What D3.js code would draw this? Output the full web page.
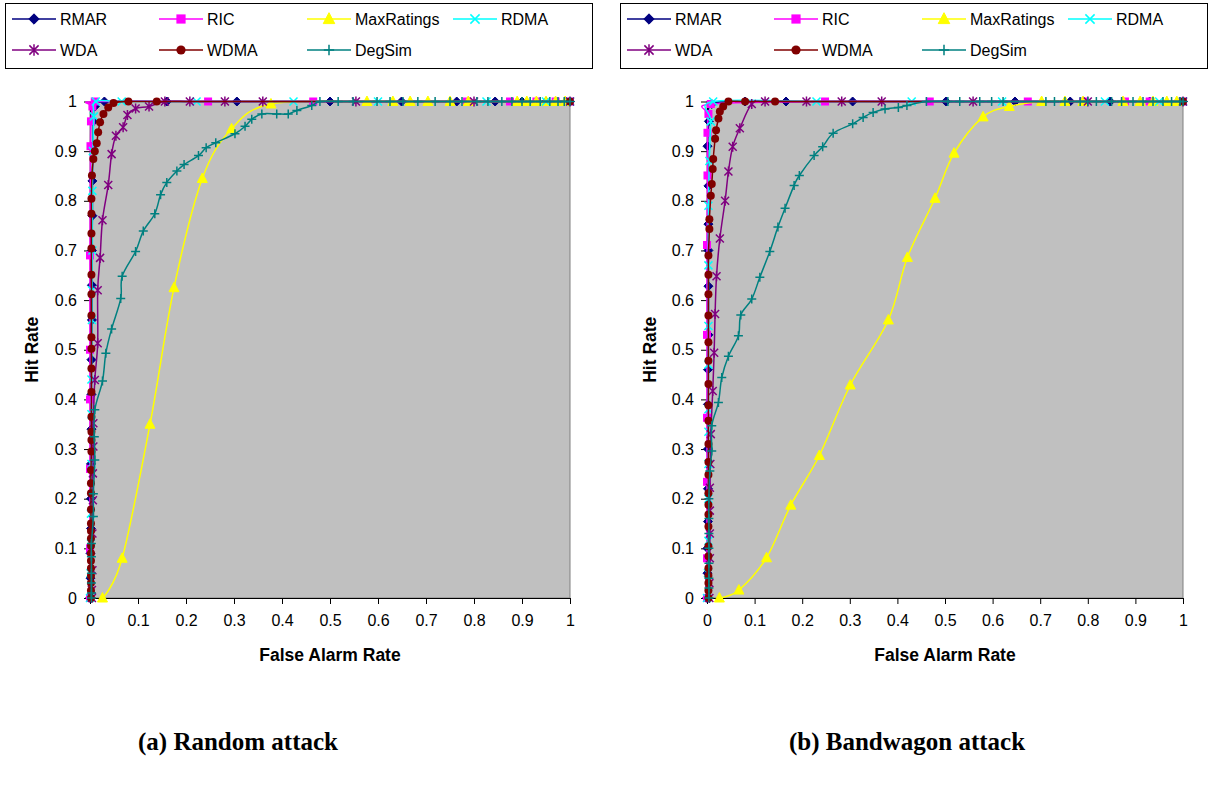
<!DOCTYPE html>
<html>
<head>
<meta charset="utf-8">
<script src="https://cdn.jsdelivr.net/npm/d3@7"></script>
<style>
  body { margin: 0; background: #fff; }
  text { font-family: "Liberation Sans", Arial, sans-serif; }
</style>
</head>
<body>
<svg id="chart" width="1216" height="785"></svg>
<script>
(function() {
  'use strict';

  var seriesNames = ["RMAR", "RIC", "MaxRatings", "RDMA", "WDA", "WDMA", "DegSim"];
  var seriesColors = ["#000080", "#FF00FF", "#FFFF00", "#00FFFF", "#800080", "#800000", "#008080"];
  var seriesMarkers = ["diamond", "square", "triangle", "x", "asterisk", "circle", "plus"];
  var tickValues = [0, 0.1, 0.2, 0.3, 0.4, 0.5, 0.6, 0.7, 0.8, 0.9, 1];
  var tickLabels = ["0", "0.1", "0.2", "0.3", "0.4", "0.5", "0.6", "0.7", "0.8", "0.9", "1"];

  // (a) Random attack: [false alarm rate, hit rate]
  var randRMAR = [[0,0],[0.001,0.04],[0.001,0.09],[0.002,0.14],[0.002,0.2],[0.002,0.27],[0.003,0.34],[0.003,0.41],[0.003,0.48],[0.004,0.56],[0.004,0.63],[0.004,0.7],[0.005,0.77],[0.005,0.84],[0.006,0.91],[0.007,0.96],[0.01,0.99],[0.03,1],[0.16,1],[0.306,1],[0.5,1],[0.649,1],[0.764,1],[0.844,1],[0.9,1],[0.95,1],[1,1]];
  var randRIC = [[0,0],[0,0.1],[0,0.26],[0,0.4],[0,0.5],[0,0.69],[0.001,0.91],[0.002,0.96],[0.005,0.99],[0.01,1],[0.246,1],[0.465,1],[0.785,1],[0.875,1],[0.93,1],[0.97,1],[1,1]];
  var randMax = [[0.026,0],[0.067,0.08],[0.125,0.35],[0.175,0.625],[0.234,0.845],[0.295,0.945],[0.377,0.995],[0.577,1],[0.631,1],[0.667,1],[0.704,1],[0.75,1],[0.788,1],[0.89,1],[0.91,1],[0.93,1],[0.95,1],[0.97,1],[0.99,1]];
  var randRDMA = [[0,0],[0.001,0.05],[0.002,0.11],[0.002,0.17],[0.003,0.27],[0.003,0.37],[0.003,0.44],[0.004,0.56],[0.004,0.62],[0.005,0.7],[0.005,0.82],[0.006,0.9],[0.008,0.97],[0.012,1],[0.066,1],[0.222,1],[0.424,1],[0.6,1],[0.826,1],[0.95,1],[1,1]];
  var randWDA = [[0.004,0],[0.004,0.016],[0.005,0.056],[0.005,0.13],[0.006,0.197],[0.006,0.251],[0.007,0.305],[0.007,0.352],[0.01,0.439],[0.016,0.513],[0.016,0.62],[0.021,0.685],[0.026,0.761],[0.038,0.832],[0.045,0.894],[0.054,0.931],[0.069,0.948],[0.078,0.973],[0.095,0.986],[0.123,0.99],[0.156,1],[0.208,1],[0.281,1],[0.36,1],[0.554,1],[0.8,1],[1,1]];
  var randWDMA = [[0.002,0],[0.002,0.015],[0.002,0.03],[0.002,0.045],[0.002,0.06],[0.002,0.075],[0.002,0.09],[0.002,0.105],[0.002,0.12],[0.002,0.135],[0.002,0.15],[0.002,0.178],[0.002,0.211],[0.002,0.231],[0.002,0.258],[0.003,0.295],[0.003,0.318],[0.003,0.335],[0.003,0.365],[0.003,0.415],[0.003,0.462],[0.003,0.502],[0.003,0.525],[0.003,0.569],[0.003,0.612],[0.003,0.651],[0.003,0.704],[0.003,0.734],[0.003,0.774],[0.003,0.804],[0.004,0.851],[0.007,0.884],[0.01,0.9],[0.014,0.916],[0.017,0.938],[0.021,0.958],[0.028,0.975],[0.038,0.988],[0.049,0.997],[0.08,1],[0.139,1],[1,1]];
  var randDegSim = [[0.003,0],[0.003,0.01],[0.003,0.03],[0.003,0.05],[0.003,0.083],[0.003,0.11],[0.007,0.164],[0.007,0.21],[0.01,0.278],[0.009,0.325],[0.01,0.379],[0.026,0.437],[0.033,0.493],[0.045,0.542],[0.064,0.603],[0.067,0.648],[0.095,0.698],[0.111,0.739],[0.135,0.774],[0.147,0.812],[0.16,0.837],[0.181,0.86],[0.196,0.873],[0.226,0.891],[0.242,0.907],[0.262,0.917],[0.302,0.935],[0.323,0.95],[0.337,0.964],[0.358,0.975],[0.389,0.975],[0.413,0.975],[0.431,0.982],[0.462,0.992],[0.479,1],[0.517,1],[0.548,1],[0.598,1],[0.625,1],[0.652,1],[0.683,1],[0.719,1],[0.75,1],[0.775,1],[0.806,1],[0.829,1],[0.858,1],[0.879,1],[0.9,1],[0.917,1],[0.938,1],[0.958,1],[0.975,1],[0.988,1],[1,1]];

  // (b) Bandwagon attack
  var bandRMAR = [[0,0],[0.001,0.05],[0.001,0.1],[0.002,0.154],[0.002,0.22],[0.002,0.3],[0.002,0.39],[0.002,0.46],[0.003,0.53],[0.003,0.628],[0.003,0.7],[0.003,0.753],[0.003,0.83],[0.001,0.91],[0.004,0.96],[0.01,0.995],[0.08,1],[0.166,1],[0.306,1],[0.502,1],[0.647,1],[0.763,1],[0.847,1],[0.93,1],[1,1]];
  var bandRIC = [[0,0],[0,0.08],[0,0.234],[0,0.363],[0,0.53],[0,0.711],[0.001,0.851],[0.001,0.937],[0.003,0.975],[0.008,0.995],[0.248,1],[0.468,1],[0.674,1],[0.79,1],[0.878,1],[0.93,1],[1,1]];
  var bandMax = [[0.026,0],[0.067,0.016],[0.125,0.081],[0.176,0.187],[0.236,0.287],[0.301,0.429],[0.381,0.56],[0.421,0.686],[0.479,0.805],[0.519,0.896],[0.58,0.969],[0.635,0.99],[0.703,1],[0.752,1],[0.79,1],[0.874,1],[0.91,1],[0.937,1],[0.966,1],[0.987,1]];
  var bandRDMA = [[0,0],[0.002,0.05],[0.003,0.115],[0.003,0.2],[0.003,0.27],[0.003,0.335],[0.003,0.38],[0.003,0.47],[0.003,0.548],[0.003,0.67],[0.003,0.79],[0.005,0.88],[0.008,0.96],[0.013,1],[0.23,1],[0.43,1],[0.62,1],[0.836,1],[0.95,1],[1,1]];
  var bandWDA = [[0.005,0],[0.005,0.03],[0.006,0.08],[0.006,0.13],[0.006,0.176],[0.006,0.222],[0.007,0.27],[0.008,0.33],[0.012,0.417],[0.015,0.494],[0.017,0.572],[0.02,0.648],[0.027,0.724],[0.038,0.8],[0.045,0.859],[0.054,0.909],[0.069,0.946],[0.094,0.995],[0.122,1],[0.209,1],[0.283,1],[0.367,1],[0.559,1],[0.8,1],[1,1]];
  var bandWDMA = [[0.003,0],[0.003,0.015],[0.003,0.03],[0.003,0.045],[0.003,0.06],[0.003,0.084],[0.003,0.104],[0.003,0.144],[0.003,0.168],[0.003,0.188],[0.003,0.211],[0.003,0.248],[0.003,0.274],[0.003,0.31],[0.003,0.357],[0.003,0.388],[0.003,0.431],[0.003,0.478],[0.003,0.515],[0.003,0.569],[0.003,0.612],[0.003,0.651],[0.003,0.69],[0.005,0.743],[0.005,0.763],[0.008,0.81],[0.01,0.834],[0.012,0.864],[0.013,0.884],[0.017,0.925],[0.019,0.942],[0.024,0.966],[0.027,0.98],[0.034,0.99],[0.045,1],[0.08,1],[0.143,1],[1,1]];
  var bandDegSim = [[0.004,0],[0.004,0.02],[0.004,0.04],[0.004,0.07],[0.004,0.1],[0.004,0.13],[0.004,0.16],[0.004,0.2],[0.006,0.256],[0.01,0.296],[0.01,0.347],[0.024,0.394],[0.031,0.444],[0.045,0.487],[0.066,0.528],[0.071,0.57],[0.094,0.602],[0.111,0.646],[0.132,0.698],[0.149,0.747],[0.164,0.785],[0.183,0.831],[0.194,0.851],[0.225,0.891],[0.243,0.909],[0.265,0.936],[0.306,0.955],[0.328,0.968],[0.349,0.978],[0.374,0.985],[0.402,0.988],[0.42,0.992],[0.461,1],[0.506,1],[0.531,1],[0.573,1],[0.598,1],[0.622,1],[0.712,1],[0.73,1],[0.752,1],[0.784,1],[0.8,1],[0.818,1],[0.85,1],[0.871,1],[0.895,1],[0.916,1],[0.937,1],[0.958,1],[0.976,1],[0.994,1],[1,1]];

  var panels = [
    { left: 90, right: 570, legendX: 5, labelX: 32, caption: "(a) Random attack", captionX: 238,
      series: [randRMAR, randRIC, randMax, randRDMA, randWDA, randWDMA, randDegSim] },
    { left: 707, right: 1183, legendX: 620, labelX: 650, caption: "(b) Bandwagon attack", captionX: 907,
      series: [bandRMAR, bandRIC, bandMax, bandRDMA, bandWDA, bandWDMA, bandDegSim] }
  ];

  var top = 101.5, bottom = 598;
  var svg = d3.select("#chart");

  // draws one marker centred on the current origin of g (k scales it)
  function marker(g, type, color, k) {
    k = k || 1;
    var s = function(v) { return v * k; };
    switch (type) {
      case "diamond":
        g.append("path").attr("d", "M0," + s(-4.5) + "L" + s(4.5) + ",0L0," + s(4.5) + "L" + s(-4.5) + ",0Z")
          .attr("fill", color).attr("stroke", color);
        break;
      case "square":
        g.append("rect").attr("x", s(-4)).attr("y", s(-4)).attr("width", s(8)).attr("height", s(8)).attr("fill", color);
        break;
      case "triangle":
        g.append("path").attr("d", "M0," + s(-5.5) + "L" + s(5) + "," + s(4) + "L" + s(-5) + "," + s(4) + "Z")
          .attr("fill", color).attr("stroke", color);
        break;
      case "x":
        g.append("path").attr("d", "M" + s(-4) + "," + s(-4) + "L" + s(4) + "," + s(4) + "M" + s(-4) + "," + s(4) + "L" + s(4) + "," + s(-4))
          .attr("stroke", color).attr("stroke-width", 1.5);
        break;
      case "asterisk":
        g.append("path").attr("d", "M" + s(-4) + "," + s(-4) + "L" + s(4) + "," + s(4) + "M" + s(-4) + "," + s(4) + "L" + s(4) + "," + s(-4) +
          "M0," + s(-5) + "L0," + s(5))
          .attr("stroke", color).attr("stroke-width", 1.5);
        break;
      case "circle":
        g.append("circle").attr("r", s(4)).attr("fill", color);
        break;
      case "plus":
        g.append("path").attr("d", "M" + s(-4.5) + ",0L" + s(4.5) + ",0M0," + s(-4.5) + "L0," + s(4.5))
          .attr("stroke", color).attr("stroke-width", 1.5);
        break;
    }
  }

  panels.forEach(function(p) {
    var x = d3.scaleLinear().domain([0, 1]).range([p.left, p.right]);
    var y = d3.scaleLinear().domain([0, 1]).range([bottom, top]);
    var g = svg.append("g");

    // legend
    var leg = g.append("g").attr("transform", "translate(" + p.legendX + ",3)");
    leg.append("rect").attr("x", 0.5).attr("y", 0.5).attr("width", 587).attr("height", 65)
      .attr("fill", "#fff").attr("stroke", "#000");
    var colX = [0, 147, 295, 441];
    seriesNames.forEach(function(name, i) {
      var e = leg.append("g")
        .attr("transform", "translate(" + colX[i % 4] + "," + (i < 4 ? 16 : 47) + ")");
      e.append("line").attr("x1", 7).attr("x2", 51).attr("stroke", seriesColors[i]).attr("stroke-width", 1.5);
      marker(e.append("g").attr("transform", "translate(29,0)"), seriesMarkers[i], seriesColors[i], 1.15);
      e.append("text").attr("x", 55).attr("dy", "0.35em").attr("font-size", 16).text(name);
    });

    // plot area
    g.append("rect").attr("x", p.left).attr("y", top).attr("width", p.right - p.left).attr("height", bottom - top)
      .attr("fill", "#C0C0C0").attr("stroke", "#808080");

    var xAxis = d3.axisBottom(x).tickValues(tickValues)
      .tickFormat(function(d, i) { return tickLabels[i]; }).tickSize(6).tickSizeOuter(0).tickPadding(11);
    var yAxis = d3.axisLeft(y).tickValues(tickValues)
      .tickFormat(function(d, i) { return tickLabels[i]; }).tickSize(6).tickSizeOuter(0).tickPadding(7);

    var gx = g.append("g").attr("transform", "translate(0," + bottom + ")").call(xAxis);
    var gy = g.append("g").attr("transform", "translate(" + p.left + ",0)").call(yAxis);
    [gx, gy].forEach(function(a) {
      a.selectAll("text").attr("font-size", 16).attr("font-family", "Liberation Sans, Arial, sans-serif").attr("fill", "#000");
      a.selectAll("line, path").attr("stroke", "#000");
    });

    // series, smoothed like the spreadsheet (uniform Catmull-Rom)
    var line = d3.line()
      .x(function(d) { return x(d[0]); })
      .y(function(d) { return y(d[1]); })
      .curve(d3.curveCatmullRom.alpha(0));

    p.series.forEach(function(data, i) {
      var sg = g.append("g");
      sg.append("path").datum(data).attr("d", line)
        .attr("fill", "none").attr("stroke", seriesColors[i]).attr("stroke-width", 1.5);
      sg.selectAll("g.m").data(data).enter().append("g")
        .attr("class", "m")
        .attr("transform", function(d) { return "translate(" + x(d[0]) + "," + y(d[1]) + ")"; })
        .each(function() { marker(d3.select(this), seriesMarkers[i], seriesColors[i]); });
    });

    // axis titles
    g.append("text").attr("x", (p.left + p.right) / 2).attr("y", 661)
      .attr("text-anchor", "middle").attr("font-size", 17.5).attr("font-weight", "bold").text("False Alarm Rate");
    g.append("text").attr("transform", "translate(" + p.labelX + "," + (top + bottom) / 2 + ") rotate(-90)")
      .attr("text-anchor", "middle").attr("dy", "0.35em").attr("font-size", 17.5).attr("font-weight", "bold").text("Hit Rate");

    // caption
    g.append("text").attr("x", p.captionX).attr("y", 750)
      .attr("text-anchor", "middle").attr("font-size", 25).attr("font-weight", "bold")
      .style("font-family", "'Liberation Serif', 'Times New Roman', serif").text(p.caption);
  });
})();
</script>
</body>
</html>
